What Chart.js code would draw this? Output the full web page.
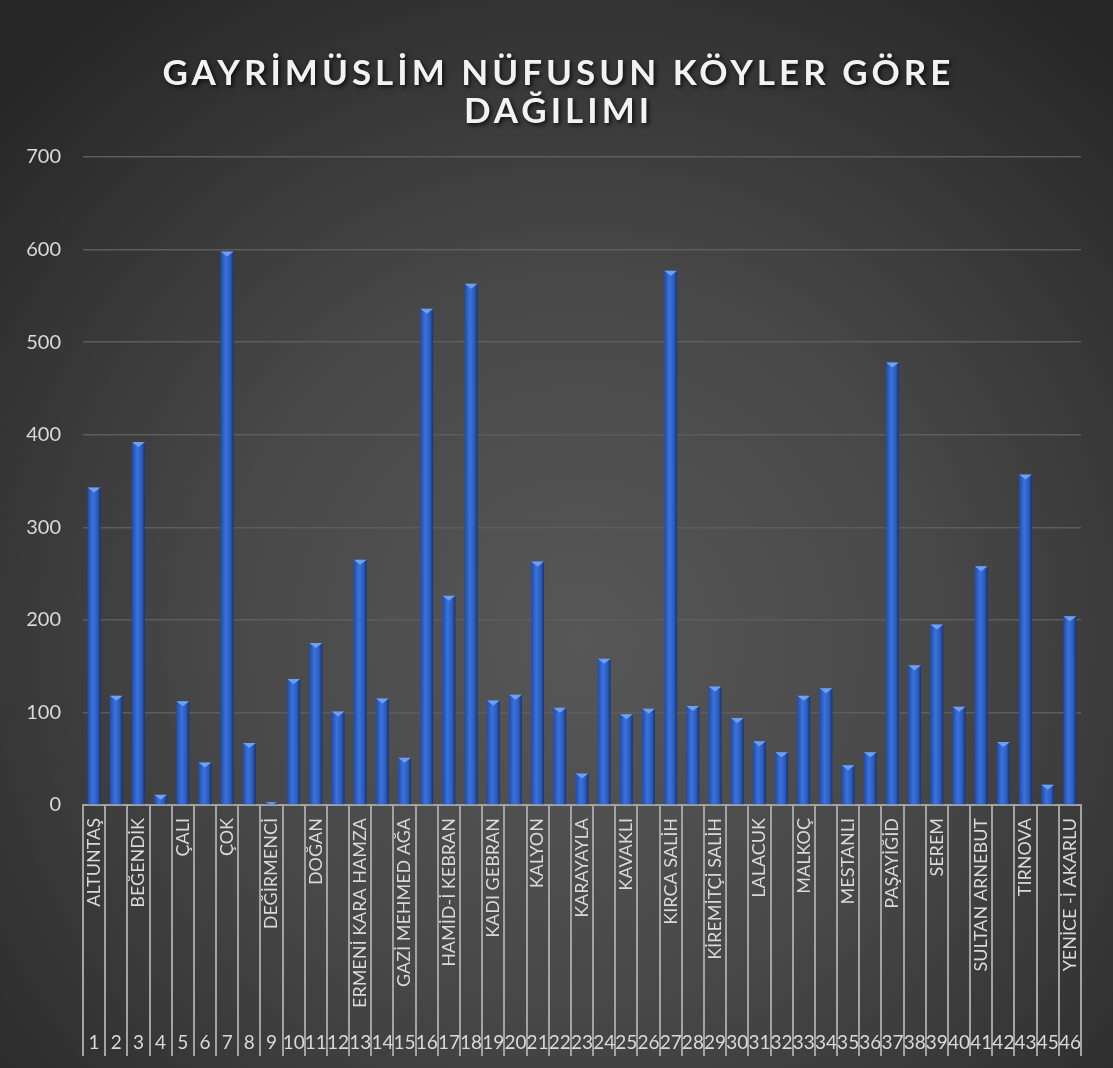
<!DOCTYPE html>
<html>
<head>
<meta charset="utf-8">
<script src="https://cdn.jsdelivr.net/npm/chart.js@4.4.1/dist/chart.umd.min.js"></script>
<style>
  html, body { margin: 0; padding: 0; background: #2b2b2b; }
  #wrap { width: 1113px; height: 1068px; }
</style>
</head>
<body>
<div id="wrap"><canvas id="c" width="1113" height="1068"></canvas></div>
<script>
// ---- data ----
const chartTitle = ['GAYRİMÜSLİM NÜFUSUN KÖYLER GÖRE', 'DAĞILIMI'];
const villageNames = [
  'ALTUNTAŞ', '', 'BEĞENDİK', '', 'ÇALI', '', 'ÇOK', '', 'DEĞİRMENCİ', '',
  'DOĞAN', '', 'ERMENİ KARA HAMZA', '', 'GAZİ MEHMED AĞA', '', 'HAMİD-İ KEBRAN', '', 'KADI GEBRAN', '',
  'KALYON', '', 'KARAYAYLA', '', 'KAVAKLI', '', 'KIRCA SALİH', '', 'KİREMİTÇİ SALİH', '',
  'LALACUK', '', 'MALKOÇ', '', 'MESTANLI', '', 'PAŞAYİĞİD', '', 'SEREM', '',
  'SULTAN ARNEBUT', '', 'TIRNOVA', '', 'YENİCE -İ AKARLU'
];
const rowNumbers = [
  '1','2','3','4','5','6','7','8','9','10',
  '11','12','13','14','15','16','17','18','19','20',
  '21','22','23','24','25','26','27','28','29','30',
  '31','32','33','34','35','36','37','38','39','40',
  '41','42','43','45','46'
];
const populationValues = [
  343, 118, 392, 11, 112, 46, 598, 67, 3, 136,
  175, 101, 265, 115, 51, 536, 226, 563, 113, 119,
  263, 105, 34, 158, 98, 104, 577, 107, 128, 94,
  69, 57, 118, 126, 43, 57, 478, 151, 195, 106,
  258, 68, 357, 22, 204
];
const yTickValues = [0, 100, 200, 300, 400, 500, 600, 700];

// ---- styling helpers ----
const textColor = '#d9d9d9';
const sepColor = '#a3a3a3';

const bgPlugin = {
  id: 'bg',
  beforeDraw(chart) {
    const { ctx, width, height } = chart;
    ctx.save();
    const g = ctx.createRadialGradient(width * 0.52, height * 0.6, 0, width * 0.52, height * 0.6, width * 0.72);
    g.addColorStop(0, '#575757');
    g.addColorStop(0.45, '#484848');
    g.addColorStop(1, '#262626');
    ctx.fillStyle = g;
    ctx.fillRect(0, 0, width, height);
    ctx.restore();
  }
};

const titleStylePlugin = {
  id: 'titleStyle',
  afterInit(chart) {
    const tb = chart.titleBlock;
    if (!tb || tb._wrapped) return;
    const orig = tb.draw.bind(tb);
    tb.draw = function () {
      const ctx = chart.ctx;
      ctx.save();
      ctx.translate(18, 0);
      ctx.letterSpacing = '4px';
      ctx.shadowColor = 'rgba(0,0,0,0.75)';
      ctx.shadowBlur = 4;
      ctx.shadowOffsetX = 2;
      ctx.shadowOffsetY = 2;
      orig();
      ctx.restore();
    };
    tb._wrapped = true;
  }
};

// bevel highlight at the top of each bar, placed from the bar elements themselves
const bevelPlugin = {
  id: 'bevel',
  afterDatasetsDraw(chart) {
    const ctx = chart.ctx;
    const meta = chart.getDatasetMeta(0);
    ctx.save();
    meta.data.forEach(el => {
      const { x, y, width, base } = el.getProps(['x', 'y', 'width', 'base'], true);
      const h = Math.min(5, Math.abs(base - y));
      if (h <= 0) return;
      ctx.fillStyle = '#6f9ff0';
      ctx.beginPath();
      ctx.moveTo(x - width / 2, y);
      ctx.lineTo(x + width / 2, y);
      ctx.lineTo(x, y + h);
      ctx.closePath();
      ctx.fill();
    });
    ctx.restore();
  }
};

function barFill(c) {
  const chart = c.chart;
  const xs = chart.scales && chart.scales.x;
  if (!xs || c.type !== 'data') return '#2f64cc';
  const cx = xs.getPixelForValue(c.dataIndex);
  if (!isFinite(cx)) return '#2f64cc';
  const half = 6.5;
  const g = chart.ctx.createLinearGradient(cx - half, 0, cx + half, 0);
  g.addColorStop(0, '#1f4caa');
  g.addColorStop(0.4, '#3a72dc');
  g.addColorStop(0.75, '#2a5cc0');
  g.addColorStop(1, '#15336f');
  return g;
}

new Chart(document.getElementById('c'), {
  type: 'bar',
  data: {
    labels: villageNames,
    datasets: [{
      label: 'Gayrimüslim nüfus',
      data: populationValues,
      backgroundColor: barFill,
      borderWidth: 0,
      barPercentage: 0.58,
      categoryPercentage: 1.0,
      xAxisID: 'x',
      yAxisID: 'y'
    }]
  },
  options: {
    responsive: false,
    animation: false,
    events: [],
    layout: { padding: { left: 0, right: 32, top: 0, bottom: 12 } },
    plugins: {
      legend: { display: false },
      tooltip: { enabled: false },
      title: {
        display: true,
        text: chartTitle,
        color: '#f2f2f2',
        font: { family: 'Lato', weight: 'bold', size: 35, lineHeight: 1.1 },
        padding: { top: 54, bottom: 26 }
      }
    },
    scales: {
      x: {
        type: 'category',
        position: 'bottom',
        weight: 0,
        offset: true,
        border: { display: true, color: sepColor, width: 2 },
        grid: {
          display: true,
          offset: true,
          drawOnChartArea: false,
          drawTicks: true,
          tickLength: 209,
          color: sepColor,
          lineWidth: 2
        },
        ticks: {
          autoSkip: false,
          minRotation: 90,
          maxRotation: 90,
          padding: -196,
          color: textColor,
          font: { family: 'Lato', size: 18 }
        },
        afterFit(s) { s.height = 209; }
      },
      x2: {
        type: 'category',
        labels: rowNumbers,
        position: 'bottom',
        weight: 1,
        offset: true,
        border: { display: false },
        grid: {
          display: true,
          offset: true,
          drawOnChartArea: false,
          drawTicks: true,
          tickLength: 42,
          color: sepColor,
          lineWidth: 2
        },
        ticks: {
          autoSkip: false,
          minRotation: 0,
          maxRotation: 0,
          padding: -25,
          color: textColor,
          font: { family: 'Lato', size: 19 }
        },
        afterFit(s) { s.height = 42; }
      },
      y: {
        min: 0,
        max: 700,
        afterBuildTicks(s) { s.ticks = yTickValues.map(v => ({ value: v })); },
        border: { display: false },
        grid: { color: '#5d5d5d', lineWidth: 1.5, drawTicks: false },
        ticks: {
          padding: 22,
          color: textColor,
          font: { family: 'Lato', size: 20 }
        },
        afterFit(s) { s.width = 83; }
      }
    }
  },
  plugins: [bgPlugin, titleStylePlugin, bevelPlugin]
});
</script>
</body>
</html>
